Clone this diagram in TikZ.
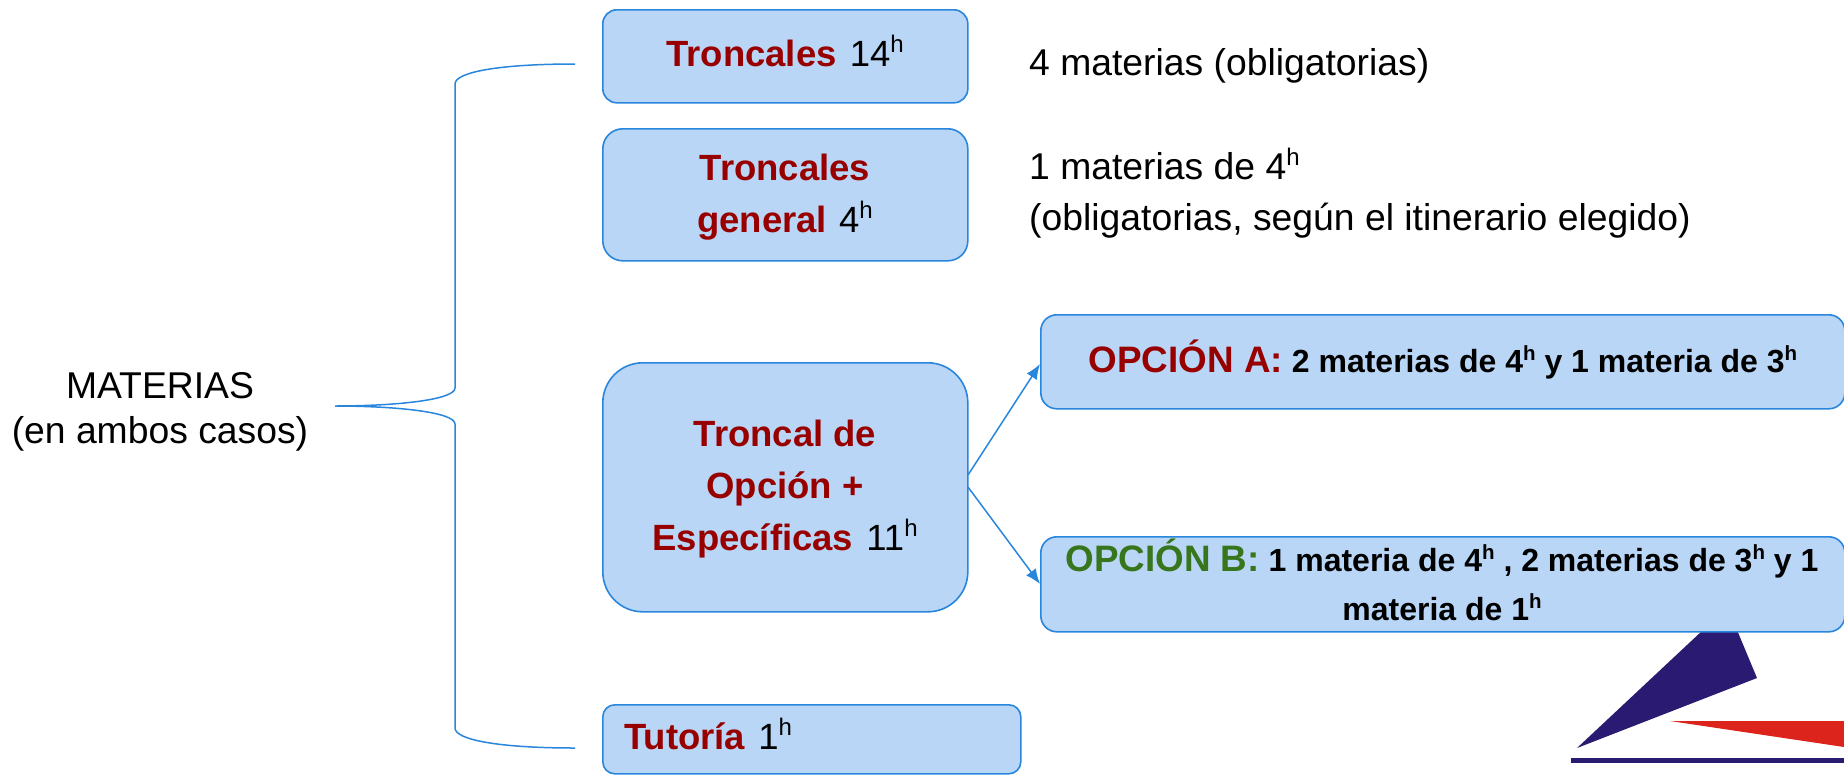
\documentclass[tikz,border=0pt]{standalone}
\usepackage{fontspec}
\setmainfont{Liberation Sans}
\usetikzlibrary{arrows.meta}
\definecolor{boxfill}{HTML}{B9D6F6}
\definecolor{boxline}{HTML}{2A86DC}
\definecolor{darkred}{HTML}{980000}
\definecolor{darkgreen}{HTML}{38761D}
\definecolor{logonavy}{HTML}{2A1A72}
\definecolor{logored}{HTML}{DC241C}
\newcommand{\hsup}[1]{\raisebox{14pt}{\fontsize{24}{24}\selectfont #1}}
\newcommand{\bsup}[1]{\raisebox{12pt}{\fontsize{20.5}{20.5}\selectfont\bfseries #1}}
\newcommand{\rd}[1]{\textcolor{darkred}{\bfseries #1}}
\tikzset{
  x=1pt,y=-1pt,
  boxst/.style={draw=boxline,line width=1.6pt,fill=boxfill,inner sep=0pt,anchor=north west},
  conn/.style={draw=boxline,line width=1.5pt},
  head/.style={font=\fontsize{36.5}{52}\selectfont,align=center,inner sep=0pt},
  plain/.style={font=\fontsize{37.3}{50.5}\selectfont,align=left,anchor=west,inner sep=0pt},
  opt/.style={font=\fontsize{32}{49}\selectfont\bfseries,align=center,inner sep=0pt},
}
\begin{document}
\begin{tikzpicture}
\useasboundingbox (0,0) rectangle (1844,774);
% logo
\fill[logonavy] (1577,748) -- (1757,678) -- (1737,630) -- (1703,630) -- cycle;
\fill[logored] (1670,721) -- (1844,721) -- (1844,747) -- cycle;
\fill[logonavy] (1571,757.5) rectangle (1844,762.5);
% boxes
\node[boxst,rounded corners=14pt,minimum width=365pt,minimum height=93pt] (tr) at (602,9) {};
\node[boxst,rounded corners=20pt,minimum width=365pt,minimum height=132pt] (gen) at (602,128) {};
\node[boxst,rounded corners=40pt,minimum width=365pt,minimum height=249pt] (opc) at (602,362) {};
\node[boxst,rounded corners=12pt,minimum width=418pt,minimum height=69pt] (tut) at (602,704) {};
\node[boxst,rounded corners=16pt,minimum width=804pt,minimum height=94pt] (a) at (1040,314) {};
\node[boxst,rounded corners=16pt,minimum width=804pt,minimum height=95pt] (b) at (1040,536) {};
% box texts
\node[head,anchor=base] (trt) at (785,66) {\rd{Troncales}\hspace{3pt} 14\hsup{h}};
\node[head] (gent) at (785,197) {\rd{Troncales}\\\rd{general}\hspace{2pt} 4\hsup{h}};
\node[head] (opct) at (785,489) {\rd{Troncal de}\\\rd{Opción +}\\\rd{Específicas}\hspace{3pt} 11\hsup{h}};
\node[head,anchor=base west] (tutt) at (624,749) {\rd{Tutoría}\hspace{3pt} 1\hsup{h}};
\node[opt,anchor=base] (at) at (1443,372) {{\fontsize{36.8}{49}\selectfont\rd{OPCIÓN A:}} 2 materias de 4\bsup{h} y 1 materia de 3\bsup{h}};
\node[opt] (bt) at (1442,580) {{\fontsize{36.8}{49}\selectfont\textcolor{darkgreen}{OPCIÓN B:}} 1 materia de 4\bsup{h} , 2 materias de 3\bsup{h} y 1\\materia de 1\bsup{h}};
% plain texts
\node[plain] (t1) at (1029,65.5) {4 materias (obligatorias)};
\node[plain] (t2) at (1029,193) {1 materias de 4\hsup{h}\\(obligatorias, según el itinerario elegido)};
\node[plain,align=center,anchor=center,font=\fontsize{37.3}{45}\selectfont] (mat) at (160,412) {MATERIAS\\(en ambos casos)};
% brace
\coordinate (bt) at (575,64);
\coordinate (bb) at (575,748);
\coordinate (bm) at (335,406);
\draw[conn] (bt) .. controls (500,64) and (455,72) .. (455,84) -- (455,388)
  .. controls (455,400) and (395,406) .. (bm)
  .. controls (395,406) and (455,412) .. (455,424) -- (455,728)
  .. controls (455,740) and (500,748) .. (bb);
% arrows
\coordinate (oa) at (968,475);
\coordinate (ob) at (968,487);
\coordinate (ea) at (1040,364);
\coordinate (eb) at (1040,584);
\draw[conn,-{Latex[length=15pt,width=12pt]}] (oa) -- (ea);
\draw[conn,-{Latex[length=15pt,width=12pt]}] (ob) -- (eb);
\end{tikzpicture}
\end{document}
